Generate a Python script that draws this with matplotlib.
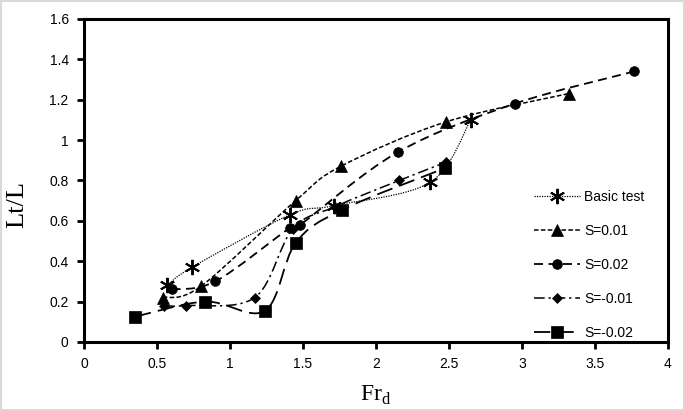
import numpy as np
import matplotlib
matplotlib.use('Agg')
import matplotlib.pyplot as plt
from matplotlib.path import Path
from matplotlib.patches import PathPatch, Rectangle
from matplotlib.lines import Line2D
from matplotlib.ticker import FuncFormatter

# data
basic_x = [0.57, 0.74, 1.41, 1.71, 2.37, 2.65]
basic_y = [0.28, 0.37, 0.63, 0.675, 0.79, 1.10]

s001_x = [0.54, 0.80, 1.45, 1.76, 2.48, 3.32]
s001_y = [0.22, 0.275, 0.70, 0.87, 1.09, 1.23]

s002_x = [0.60, 0.90, 1.41, 1.48, 2.15, 2.95, 3.77]
s002_y = [0.26, 0.30, 0.565, 0.58, 0.94, 1.18, 1.34]

sm001_x = [0.55, 0.70, 1.17, 1.43, 1.72, 2.16, 2.48]
sm001_y = [0.18, 0.18, 0.22, 0.56, 0.67, 0.80, 0.89]

sm002_x = [0.35, 0.83, 1.24, 1.45, 1.77, 2.47]
sm002_y = [0.125, 0.20, 0.155, 0.49, 0.655, 0.86]

labels = ['Basic test', 'S=0.01', 'S=0.02', 'S=-0.01', 'S=-0.02']
x_ticks = [0, 0.5, 1, 1.5, 2, 2.5, 3, 3.5, 4]
y_ticks = [0, 0.2, 0.4, 0.6, 0.8, 1, 1.2, 1.4, 1.6]


def smooth_path(x, y):
	# excel-like smoothed line (catmull-rom as cubic bezier)
	pts = np.column_stack([x, y])
	n = len(pts)
	verts = [pts[0]]
	codes = [Path.MOVETO]
	for i in range(n - 1):
		p0 = pts[i - 1] if i > 0 else pts[i]
		p1 = pts[i]
		p2 = pts[i + 1]
		p3 = pts[i + 2] if i + 2 < n else pts[i + 1]
		c1 = p1 + (p2 - p0) / 6.0
		c2 = p2 - (p3 - p1) / 6.0
		verts += [c1, c2, p2]
		codes += [Path.CURVE4] * 3
	return Path(verts, codes)


series = [
	(basic_x, basic_y, (0, (1, 1)), (6, 2, 0), 11, 0.9),
	(s001_x, s001_y, (0, (3, 1.5)), '^', 8.5, 1.1),
	(s002_x, s002_y, (0, (5, 3)), 'o', 7, 1.3),
	(sm001_x, sm001_y, (0, (7, 2.5, 1.5, 2.5)), 'D', 5, 1.1),
	(sm002_x, sm002_y, (0, (9, 4)), 's', 8.5, 1.3),
]

fig = plt.figure(figsize=(6.85, 4.11), dpi=100)
ax = fig.add_axes([0.1226, 0.168, 0.8524, 0.786])

handles = []
for (xs, ys, ls, mk, ms, lw), label in zip(series, labels):
	patch = PathPatch(smooth_path(xs, ys), facecolor='none', edgecolor='black',
					  linestyle=ls, linewidth=lw, zorder=2)
	ax.add_patch(patch)
	mew = 1.4 if mk == (6, 2, 0) else 0.5
	ax.plot(xs, ys, linestyle='none', marker=mk, markersize=ms, color='black',
			markeredgewidth=mew, zorder=3)
	handles.append(Line2D([], [], color='black', linestyle=ls, linewidth=lw,
						  marker=mk, markersize=ms, markeredgewidth=mew))

ax.set_xlim(0, 4)
ax.set_ylim(0, 1.6)
ax.set_xticks(x_ticks)
ax.set_yticks(y_ticks)
ax.xaxis.set_major_formatter(FuncFormatter(lambda v, p: '%g' % v))
ax.yaxis.set_major_formatter(FuncFormatter(lambda v, p: '%g' % v))

for sp in ax.spines.values():
	sp.set_linewidth(2.2)
ax.tick_params(direction='out', length=5, width=2, labelsize=10, pad=6)
for lab in ax.get_xticklabels() + ax.get_yticklabels():
	lab.set_fontfamily('Liberation Sans')

# axis titles placed like the excel chart (y title sits a bit low)
ax.set_ylabel('Lt/L', fontfamily='Liberation Serif', fontsize=19)
ax.yaxis.set_label_coords(-0.095, 0.425)
ax.set_xlabel('Fr$_\\mathregular{d}$', fontfamily='Liberation Serif', fontsize=17)
ax.xaxis.set_label_coords(0.5, -0.13)

ax.legend(handles, labels, loc='upper left', bbox_to_anchor=(0.75, 0.51), frameon=False,
		  handlelength=3.3, numpoints=1, labelspacing=1.45, handletextpad=0.3,
		  prop={'family': 'Liberation Sans', 'size': 10})

# light grey chart border
fig.patches.append(Rectangle((0.002, 0.003), 0.996, 0.994, transform=fig.transFigure,
							 fill=False, edgecolor='#d9d9d9', linewidth=1.5))

plt.savefig('out.png', dpi=100)
